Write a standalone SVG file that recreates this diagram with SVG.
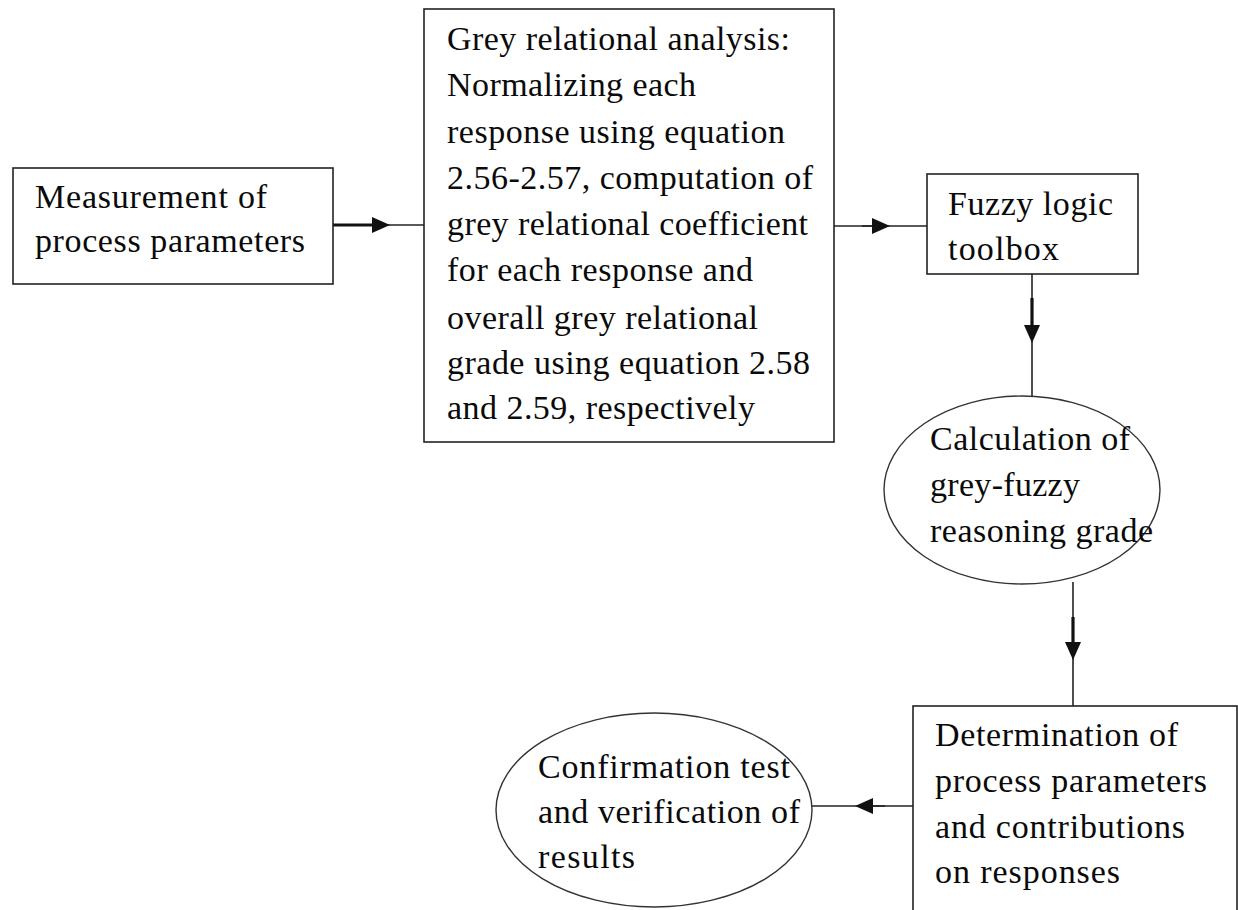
<svg xmlns="http://www.w3.org/2000/svg" width="1238" height="910" viewBox="0 0 1238 910">
<style>
.box{fill:#fff;stroke:#222;stroke-width:1.6}
.ell{fill:#fff;stroke:#333;stroke-width:1.4}
.t{font-family:"Liberation Serif","Times New Roman",serif;font-size:34px;fill:#0a0a0a}
.ln{fill:none;stroke:#222;stroke-width:1.6}
.thk{fill:none;stroke:#111;stroke-width:3.2}
</style>
<defs>
<marker id="ah" markerUnits="userSpaceOnUse" markerWidth="20" markerHeight="18" viewBox="0 -9 20 18" refX="3" refY="0" orient="auto">
<path d="M0,-8 L18,0 L0,8 z" fill="#111"/>
</marker>
</defs>
<rect width="1238" height="910" fill="#fff"/>
<g id="connectors">
<line class="ln" x1="333" y1="225" x2="424" y2="225"/>
<path class="thk" d="M333,225 L375,225" marker-end="url(#ah)"/>
<line class="ln" x1="834" y1="226" x2="927" y2="226"/>
<path class="ln" d="M862,226 L875,226" marker-end="url(#ah)"/>
<line class="ln" x1="1032" y1="274" x2="1032" y2="397"/>
<path class="thk" d="M1032,298 L1032,328" marker-end="url(#ah)"/>
<line class="ln" x1="1073" y1="582" x2="1073" y2="706"/>
<path class="thk" d="M1073,617 L1073,645" marker-end="url(#ah)"/>
<line class="ln" x1="913" y1="806" x2="812" y2="806"/>
<path class="ln" d="M885,806 L870,806" marker-end="url(#ah)"/>
</g>
<g id="measurement">
<rect class="box" x="13" y="168" width="320" height="116"/>
<text class="t" x="35" y="208" textLength="232" lengthAdjust="spacing">Measurement of</text>
<text class="t" x="35" y="252" textLength="270" lengthAdjust="spacing">process parameters</text>
</g>
<g id="grey-relational">
<rect class="box" x="424" y="9" width="410" height="433"/>
<text class="t" x="447" y="50" textLength="343" lengthAdjust="spacing">Grey relational analysis:</text>
<text class="t" x="447" y="96" textLength="249" lengthAdjust="spacing">Normalizing each</text>
<text class="t" x="447" y="143" textLength="338" lengthAdjust="spacing">response using equation</text>
<text class="t" x="447" y="189" textLength="366" lengthAdjust="spacing">2.56-2.57, computation of</text>
<text class="t" x="447" y="235" textLength="361" lengthAdjust="spacing">grey relational coefficient</text>
<text class="t" x="447" y="281" textLength="306" lengthAdjust="spacing">for each response and</text>
<text class="t" x="447" y="329" textLength="311" lengthAdjust="spacing">overall grey relational</text>
<text class="t" x="447" y="374" textLength="363" lengthAdjust="spacing">grade using equation 2.58</text>
<text class="t" x="447" y="419" textLength="308" lengthAdjust="spacing">and 2.59, respectively</text>
</g>
<g id="fuzzy-toolbox">
<rect class="box" x="927" y="174" width="211" height="100"/>
<text class="t" x="948" y="215" textLength="165" lengthAdjust="spacing">Fuzzy logic</text>
<text class="t" x="948" y="260" textLength="111" lengthAdjust="spacing">toolbox</text>
</g>
<g id="calculation">
<ellipse class="ell" cx="1022" cy="490" rx="138" ry="94"/>
<text class="t" x="930" y="450" textLength="200" lengthAdjust="spacing">Calculation of</text>
<text class="t" x="930" y="496" textLength="150" lengthAdjust="spacing">grey-fuzzy</text>
<text class="t" x="930" y="542" textLength="223" lengthAdjust="spacing">reasoning grade</text>
</g>
<g id="determination">
<rect class="box" x="913" y="706" width="324" height="220"/>
<text class="t" x="935" y="746" textLength="243" lengthAdjust="spacing">Determination of</text>
<text class="t" x="935" y="792" textLength="272" lengthAdjust="spacing">process parameters</text>
<text class="t" x="935" y="838" textLength="250" lengthAdjust="spacing">and contributions</text>
<text class="t" x="935" y="883" textLength="185" lengthAdjust="spacing">on responses</text>
</g>
<g id="confirmation">
<ellipse class="ell" cx="654" cy="810" rx="158" ry="97"/>
<text class="t" x="538" y="778" textLength="252" lengthAdjust="spacing">Confirmation test</text>
<text class="t" x="538" y="823" textLength="262" lengthAdjust="spacing">and verification of</text>
<text class="t" x="538" y="868" textLength="97" lengthAdjust="spacing">results</text>
</g>
</svg>
